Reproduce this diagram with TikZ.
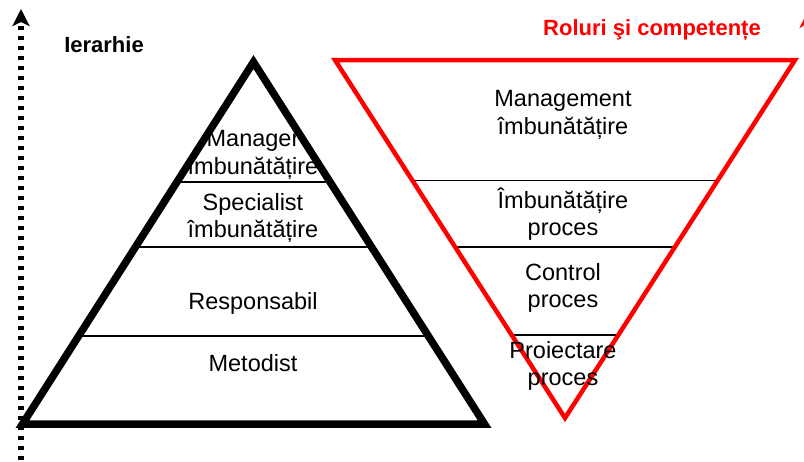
\documentclass[tikz,border=0pt]{standalone}
\usepackage{fontspec}
\setmainfont{Liberation Sans}
\usetikzlibrary{arrows.meta,calc}
\begin{document}
\begin{tikzpicture}[x=1pt,y=-1pt,
  lbl/.style={font=\fontsize{23.5}{27.5}\selectfont, align=center, inner sep=0pt},
  ttl/.style={font=\fontsize{22}{26}\selectfont\bfseries, inner sep=0pt},
  pyr/.style={line width=7.5pt, line join=miter},
  inv/.style={red, line width=4.5pt, line join=miter},
  divider/.style={line width=1.8pt},
  axisdots/.style={line width=6pt, dash pattern=on 4.3pt off 5.7pt, -{Stealth[length=17pt 0,width=17pt 0,inset=4pt 0]}},
  axisred/.style={red, line width=4.5pt, -{Stealth[length=17pt 0,width=17pt 0,inset=5pt 0]}}]
\path[use as bounding box] (0,0) rectangle (804,461);
% black pyramid
\coordinate (bA) at (253.5,62);
\coordinate (bL) at (22.5,424);
\coordinate (bR) at (484.5,424);
\draw[divider] ($(bA)!0.3315!(bL)$) -- ($(bA)!0.3315!(bR)$);
\draw[divider] ($(bA)!0.511!(bL)$) -- ($(bA)!0.511!(bR)$);
\draw[divider] ($(bA)!0.757!(bL)$) -- ($(bA)!0.757!(bR)$);
\draw[pyr] (bA) -- (bL) -- (bR) -- cycle;
% red inverted pyramid
\coordinate (rA) at (565,418);
\coordinate (rL) at (335,60);
\coordinate (rR) at (795,60);
\draw[divider] ($(rL)!0.3366!(rA)$) -- ($(rR)!0.3366!(rA)$);
\draw[divider] ($(rL)!0.5223!(rA)$) -- ($(rR)!0.5223!(rA)$);
\draw[divider] ($(rL)!0.7682!(rA)$) -- ($(rR)!0.7682!(rA)$);
\draw[inv] (rL) -- (rR) -- (rA) -- cycle;
% axes
\coordinate (hb) at (21,470);
\coordinate (ht) at (21,9);
\draw[axisdots] (hb) -- (ht);
\coordinate (rb) at (808,470);
\coordinate (rt) at (808,11);
\draw[axisred] (rb) -- (rt);
% titles
\node[ttl] (ier) at (104,45) {Ierarhie};
\node[ttl, text=red] (rol) at (652,30) {Roluri şi competențe};
% black labels
\node[lbl] (mgr) at (253,155) {Manager\\îmbunătățire};
\node[lbl] (spec) at (253,218) {Specialist\\îmbunătățire};
\node[lbl] (resp) at (253,303) {Responsabil};
\node[lbl] (met) at (253,363) {Metodist};
% red-pyramid labels
\node[lbl] (mgmt) at (563,115) {Management\\îmbunătățire};
\node[lbl] (imb) at (563,214) {Îmbunătățire\\proces};
\node[lbl] (ctrl) at (563,288) {Control\\proces};
\node[lbl] (proi) at (563,366) {Proiectare\\proces};
\end{tikzpicture}
\end{document}
